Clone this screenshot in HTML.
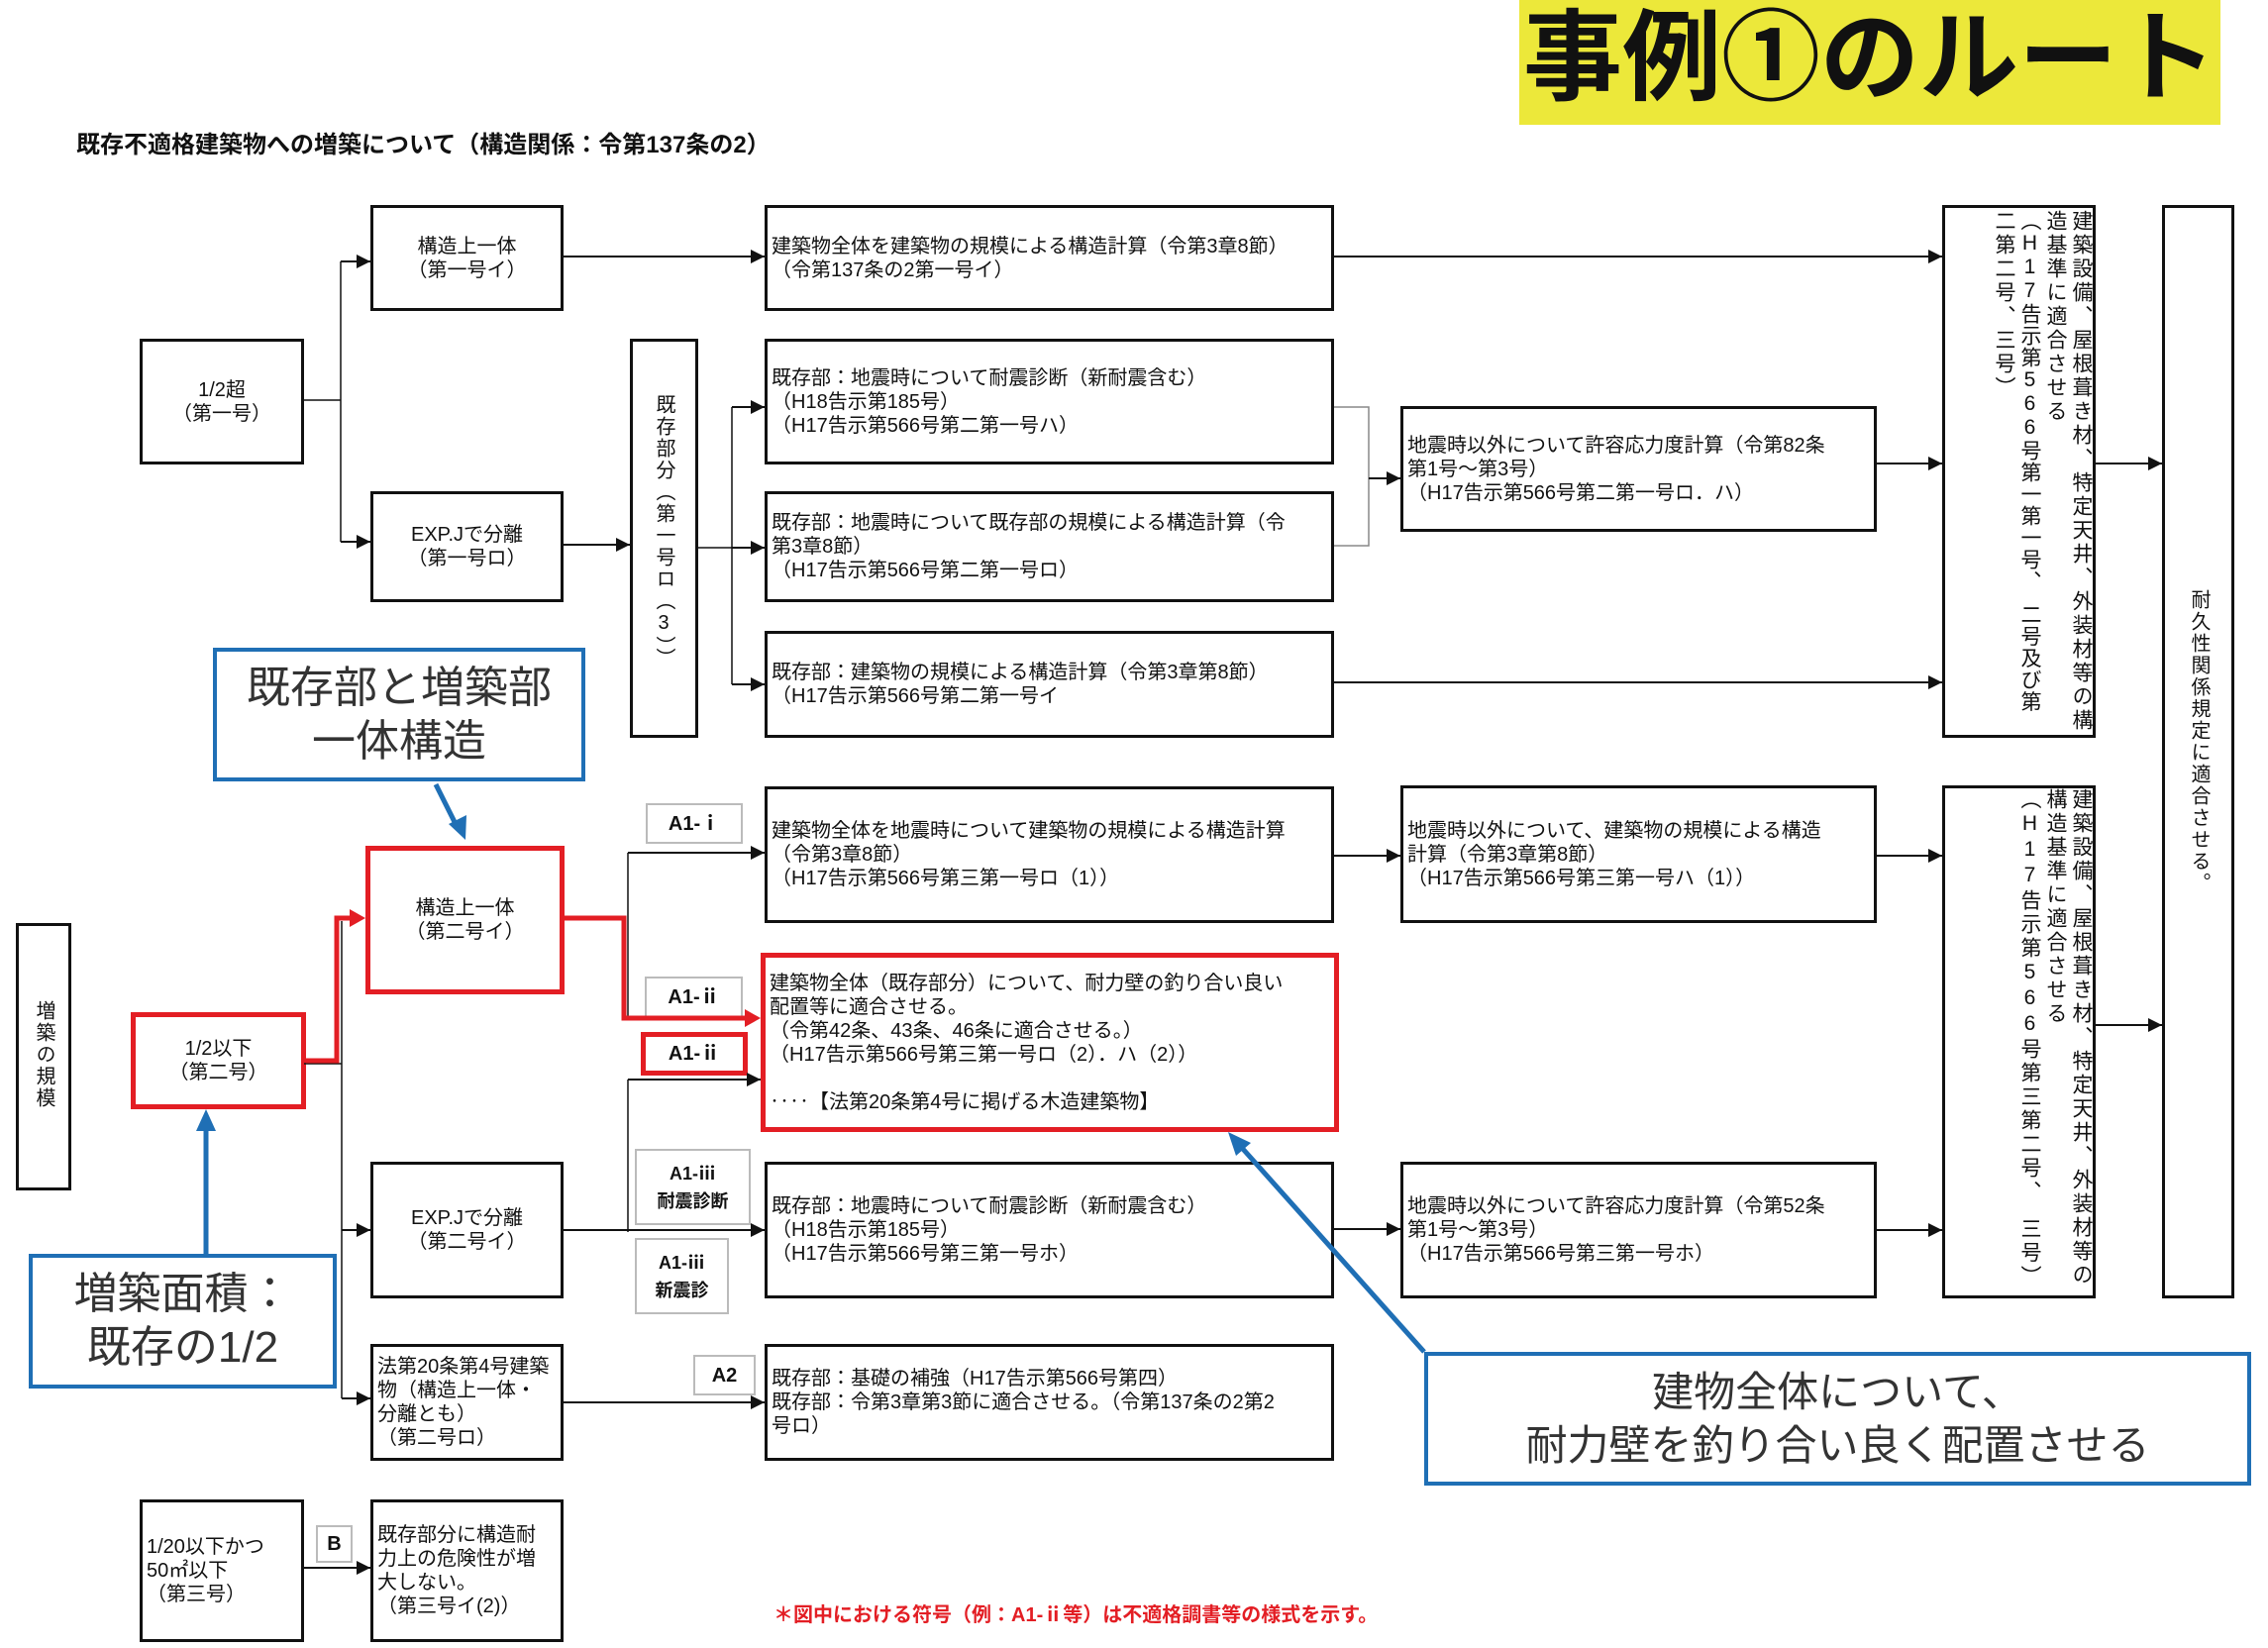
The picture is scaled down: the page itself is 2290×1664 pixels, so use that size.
<!DOCTYPE html>
<html><head><meta charset="utf-8"><style>
body{margin:0;width:2290px;height:1664px;background:#fff;position:relative;overflow:hidden;font-family:"Liberation Sans","Noto Sans CJK JP",sans-serif;color:#111}
.b{position:absolute;border:3px solid #111;box-sizing:border-box;font-size:20px;line-height:24px;display:flex;align-items:center;padding-left:4px;background:#fff}
.c{justify-content:center;text-align:center;padding:0}
.v{position:absolute;writing-mode:vertical-rl;text-orientation:upright;font-size:21px;line-height:24px;white-space:nowrap;letter-spacing:3px;z-index:3}
.lab{position:absolute;border:2px solid #bbb;box-sizing:border-box;font-weight:bold;font-size:20px;display:flex;align-items:center;justify-content:center;background:#fff;line-height:28px;text-align:center}
.call{position:absolute;border:4px solid #1f6fb5;box-sizing:border-box;font-size:44px;line-height:54px;color:#333;text-align:center;display:flex;align-items:center;justify-content:center;background:#fff}
.red{border:5px solid #e31e24!important}
svg{position:absolute;left:0;top:0;z-index:5}
</style></head><body>
<div style="position:absolute;left:1534px;top:0;width:708px;height:126px;background:#ece83a"></div>
<div style="position:absolute;left:1534px;top:4px;width:708px;text-align:center;font-size:100px;font-weight:bold;line-height:110px">事例①のルート</div>
<div style="position:absolute;left:77px;top:126px;font-size:24px;font-weight:bold">既存不適格建築物への増築について（構造関係：令第137条の2）</div>

<div class="b c" style="left:374px;top:207px;width:195px;height:107px">構造上一体<br>（第一号イ）</div>
<div class="b c" style="left:141px;top:342px;width:166px;height:127px">1/2超<br>（第一号）</div>
<div class="b c" style="left:374px;top:496px;width:195px;height:112px">EXP.Jで分離<br>（第一号ロ）</div>
<div class="b" style="left:636px;top:342px;width:69px;height:403px;padding:0"></div>
<div class="v" style="left:658px;top:398px;font-size:20px;letter-spacing:2px">既存部分（第一号ロ（3））</div>

<div class="b" style="left:772px;top:207px;width:575px;height:107px">建築物全体を建築物の規模による構造計算（令第3章8節）<br>（令第137条の2第一号イ）</div>
<div class="b" style="left:772px;top:342px;width:575px;height:127px">既存部：地震時について耐震診断（新耐震含む）<br>（H18告示第185号）<br>（H17告示第566号第二第一号ハ）</div>
<div class="b" style="left:772px;top:496px;width:575px;height:112px">既存部：地震時について既存部の規模による構造計算（令<br>第3章8節）<br>（H17告示第566号第二第一号ロ）</div>
<div class="b" style="left:772px;top:637px;width:575px;height:108px">既存部：建築物の規模による構造計算（令第3章第8節）<br>（H17告示第566号第二第一号イ</div>
<div class="b" style="left:1414px;top:410px;width:481px;height:127px">地震時以外について許容応力度計算（令第82条<br>第1号～第3号）<br>（H17告示第566号第二第一号ロ．ハ）</div>

<div class="b" style="left:1961px;top:207px;width:155px;height:538px"></div>
<div class="v" style="left:2089px;top:212px">建築設備、屋根葺き材、特定天井、外装材等の構</div>
<div class="v" style="left:2063px;top:212px">造基準に適合させる</div>
<div class="v" style="left:2037px;top:212px;letter-spacing:1px">（H17告示第566号第一第一号、　二号及び第</div>
<div class="v" style="left:2011px;top:212px">二第二号、三号）</div>

<div class="b" style="left:1961px;top:793px;width:155px;height:518px"></div>
<div class="v" style="left:2089px;top:796px">建築設備、屋根葺き材、特定天井、外装材等の</div>
<div class="v" style="left:2063px;top:796px">構造基準に適合させる</div>
<div class="v" style="left:2037px;top:796px">（H17告示第566号第三第二号、　三号）</div>

<div class="b" style="left:2183px;top:207px;width:73px;height:1104px"></div>
<div class="v" style="left:2208px;top:595px;font-size:20px;letter-spacing:2px">耐久性関係規定に適合させる。</div>

<div class="b" style="left:16px;top:932px;width:56px;height:270px"></div>
<div class="v" style="left:32px;top:1010px;font-size:20px;letter-spacing:2px">増築の規模</div>

<div class="b c red" style="left:132px;top:1022px;width:177px;height:98px">1/2以下<br>（第二号）</div>
<div class="b c red" style="left:369px;top:854px;width:201px;height:150px">構造上一体<br>（第二号イ）</div>
<div class="b c" style="left:374px;top:1173px;width:195px;height:138px">EXP.Jで分離<br>（第二号イ）</div>
<div class="b" style="left:374px;top:1357px;width:195px;height:118px">法第20条第4号建築<br>物（構造上一体・<br>分離とも）<br>（第二号ロ）</div>
<div class="b" style="left:141px;top:1514px;width:166px;height:144px">1/20以下かつ<br>50㎡以下<br>（第三号）</div>
<div class="b" style="left:374px;top:1514px;width:195px;height:144px">既存部分に構造耐<br>力上の危険性が増<br>大しない。<br>（第三号イ(2)）</div>

<div class="b" style="left:772px;top:794px;width:575px;height:138px">建築物全体を地震時について建築物の規模による構造計算<br>（令第3章8節）<br>（H17告示第566号第三第一号ロ（1））</div>
<div class="b red" style="left:768px;top:962px;width:584px;height:181px;line-height:24px">建築物全体（既存部分）について、耐力壁の釣り合い良い<br>配置等に適合させる。<br>（令第42条、43条、46条に適合させる。）<br>（H17告示第566号第三第一号ロ（2）．ハ（2））<br><br>‥‥【法第20条第4号に掲げる木造建築物】</div>
<div class="b" style="left:772px;top:1173px;width:575px;height:138px">既存部：地震時について耐震診断（新耐震含む）<br>（H18告示第185号）<br>（H17告示第566号第三第一号ホ）</div>
<div class="b" style="left:772px;top:1357px;width:575px;height:118px">既存部：基礎の補強（H17告示第566号第四）<br>既存部：令第3章第3節に適合させる。（令第137条の2第2<br>号ロ）</div>
<div class="b" style="left:1414px;top:793px;width:481px;height:139px">地震時以外について、建築物の規模による構造<br>計算（令第3章第8節）<br>（H17告示第566号第三第一号ハ（1））</div>
<div class="b" style="left:1414px;top:1173px;width:481px;height:138px">地震時以外について許容応力度計算（令第52条<br>第1号～第3号）<br>（H17告示第566号第三第一号ホ）</div>

<div class="lab" style="left:652px;top:811px;width:98px;height:41px">A1-ⅰ</div>
<div class="lab" style="left:651px;top:986px;width:99px;height:42px">A1-ⅱ</div>
<div class="lab" style="left:647px;top:1042px;width:108px;height:44px;border:5px solid #e31e24">A1-ⅱ</div>
<div class="lab" style="left:641px;top:1160px;width:117px;height:77px;font-size:18px">A1-ⅲ<br>耐震診断</div>
<div class="lab" style="left:641px;top:1250px;width:95px;height:77px;font-size:18px">A1-ⅲ<br>新震診</div>
<div class="lab" style="left:700px;top:1368px;width:63px;height:41px">A2</div>
<div class="lab" style="left:319px;top:1540px;width:37px;height:38px">B</div>

<div class="call" style="left:215px;top:654px;width:376px;height:135px">既存部と増築部<br>一体構造</div>
<div class="call" style="left:29px;top:1266px;width:311px;height:136px">増築面積：<br>既存の1/2</div>
<div class="call" style="left:1438px;top:1365px;width:835px;height:135px;font-size:42px">建物全体について、<br>耐力壁を釣り合い良く配置させる</div>

<div style="position:absolute;left:781px;top:1614px;color:#e31e24;font-weight:bold;font-size:20px">＊図中における符号（例：A1-ⅱ等）は不適格調書等の様式を示す。</div>

<svg width="2290" height="1664">
<g stroke="#111" stroke-width="1.5" fill="none">
<path d="M307,404H344M344,264V547M705,553H739M739,411V691M307,1074H345M345,930V1412M634,861V1028M634,1090V1244"/>
<path d="M1347,411H1382V551H1347" stroke="#888"/>
<path stroke-width="2" d="M344,264H374M344,547H374M569,259H772M569,550H636M739,411H772M739,553H772M739,691H772M1382,483H1414M1895,468H1961M1347,259H1961M1347,689H1961M2116,468H2183M345,1242H374M345,1412H374M634,861H772M634,1090H768M569,1242H772M569,1416H772M307,1583H374M1347,864H1414M1895,864H1961M1347,1241H1414M1895,1242H1961M2116,1035H2183"/>
</g>
<g fill="#111">
<polygon points="374,264 360,257 360,271"/><polygon points="374,547 360,540 360,554"/>
<polygon points="772,259 758,252 758,266"/><polygon points="636,550 622,543 622,557"/>
<polygon points="772,411 758,404 758,418"/><polygon points="772,553 758,546 758,560"/><polygon points="772,691 758,684 758,698"/>
<polygon points="1414,483 1400,476 1400,490"/><polygon points="1961,468 1947,461 1947,475"/>
<polygon points="1961,259 1947,252 1947,266"/><polygon points="1961,689 1947,682 1947,696"/>
<polygon points="2183,468 2169,461 2169,475"/>
<polygon points="374,1242 360,1235 360,1249"/><polygon points="374,1412 360,1405 360,1419"/>
<polygon points="772,861 758,854 758,868"/><polygon points="768,1090 754,1083 754,1097"/>
<polygon points="772,1242 758,1235 758,1249"/><polygon points="772,1416 758,1409 758,1423"/>
<polygon points="374,1583 360,1576 360,1590"/>
<polygon points="1414,864 1400,857 1400,871"/><polygon points="1961,864 1947,857 1947,871"/>
<polygon points="1414,1241 1400,1234 1400,1248"/><polygon points="1961,1242 1947,1235 1947,1249"/>
<polygon points="2183,1035 2169,1028 2169,1042"/>
</g>
<g stroke="#e31e24" stroke-width="5" fill="none">
<path d="M309,1071H340V927H356"/>
<path d="M570,927H630V1028H754"/>
</g>
<g fill="#e31e24">
<polygon points="369,927 353,918 353,936"/><polygon points="768,1028 752,1019 752,1037"/>
</g>
<g stroke="#1f6fb5" stroke-width="5" fill="none">
<path d="M208,1266V1140"/>
<path d="M1438,1365L1254,1159"/>
<path d="M440,792L461,834"/>
</g>
<g fill="#1f6fb5">
<polygon points="208,1120 198,1142 218,1142"/>
<polygon points="1240,1143 1248,1167 1263,1154"/>
<polygon points="470,848 453,832 471,823"/>
</g>
</svg>
</body></html>
